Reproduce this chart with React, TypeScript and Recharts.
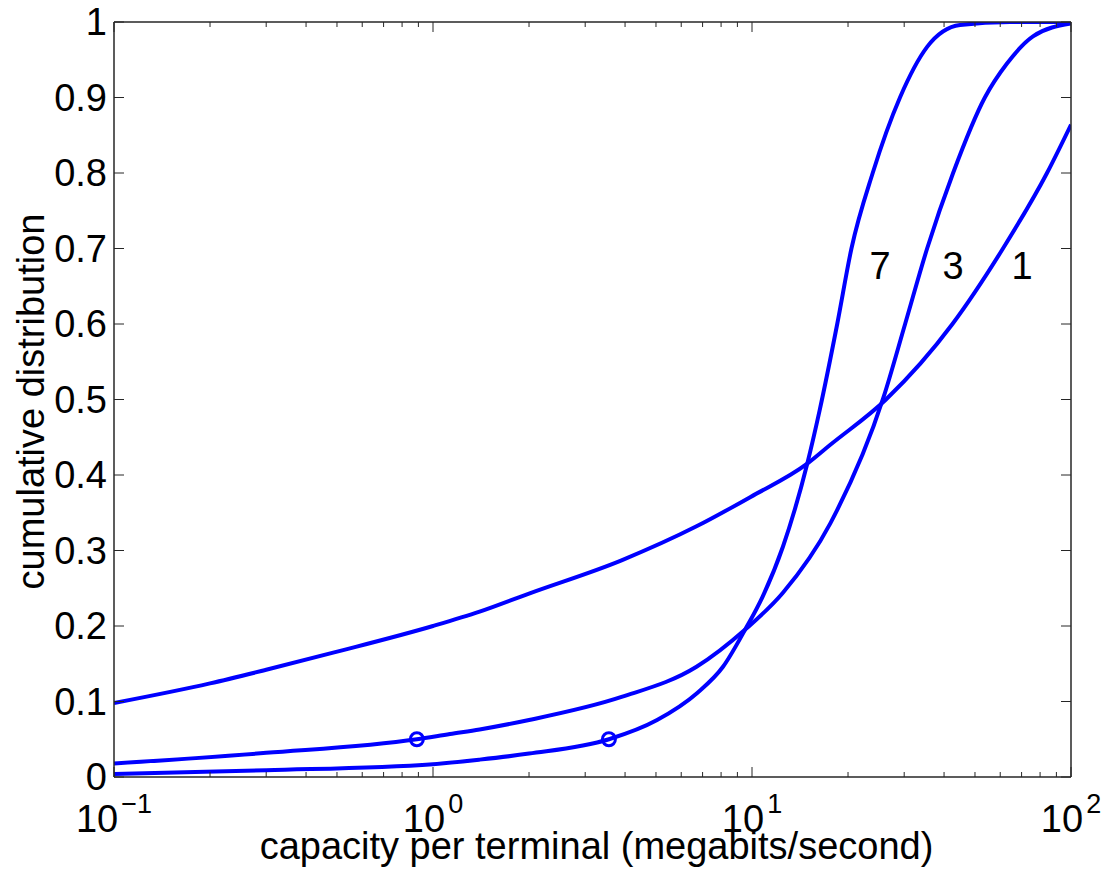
import React from 'react';
import { ComposedChart, Line, Scatter, XAxis, YAxis, ReferenceDot } from 'recharts';

// curve "1"
const capacity1 = [0.1, 0.2, 0.3, 0.49, 1.0, 1.4, 2.0, 3.9, 6.7, 9.9, 14.9, 17.6, 26.3, 42.5, 61.2, 84.1, 100];
const cdf1 = [0.098, 0.124, 0.142, 0.165, 0.2, 0.219, 0.243, 0.287, 0.332, 0.371, 0.415, 0.44, 0.5, 0.6, 0.7, 0.8, 0.864];

// curve "3"
const capacity3 = [0.1, 0.3, 0.89, 1.13, 1.4, 2.0, 3.9, 6.7, 9.5, 12.5, 17.6, 25.8, 30.2, 35.4, 42.7, 53.7, 63, 76, 100];
const cdf3 = [0.018, 0.032, 0.05, 0.057, 0.063, 0.0755, 0.106, 0.146, 0.195, 0.244, 0.336, 0.502, 0.6, 0.7, 0.8, 0.9, 0.945, 0.981, 0.998];

// curve "7"
const capacity7 = [0.1, 0.3, 1.0, 1.4, 2.0, 3.56, 5.04, 6.72, 8.11, 9.51, 10.8, 12.5, 14.9, 16.3, 18.5, 20.5, 23.9, 29.1, 35.4, 44.9, 64.4, 100];
const cdf7 = [0.004, 0.009, 0.017, 0.023, 0.031, 0.05, 0.0755, 0.111, 0.146, 0.195, 0.239, 0.305, 0.415, 0.486, 0.6, 0.7, 0.8, 0.9, 0.967, 0.996, 1.0, 1.0];

// 5% outage markers
const outageCapacity = [0.89, 3.56];
const outageCdf = [0.05, 0.05];

// in-plot curve labels
const curveLabelText = ['7', '3', '1'];
const curveLabelX = [25.2, 42.7, 70.2];
const curveLabelY = [0.677, 0.677, 0.677];

const majorXTicks = [0.1, 1, 10, 100];
const exponentLabels = ['\u22121', '0', '1', '2'];
const minorXTicks = [0.2, 0.3, 0.4, 0.5, 0.6, 0.7, 0.8, 0.9, 2, 3, 4, 5, 6, 7, 8, 9, 20, 30, 40, 50, 60, 70, 80, 90];
const yTicks = [0, 0.1, 0.2, 0.3, 0.4, 0.5, 0.6, 0.7, 0.8, 0.9, 1];

const FONT = '"Liberation Sans", Arial, Helvetica, sans-serif';
const BLUE = '#0000ff';
const AXIS = '#262626';
const FS = 38;

const zip = (xs: number[], ys: number[]) => xs.map((x, i) => ({ x, y: ys[i] }));
const series1 = zip(capacity1, cdf1);
const series3 = zip(capacity3, cdf3);
const series7 = zip(capacity7, cdf7);
const outageMarks = zip(outageCapacity, outageCdf);
const allXTicks = [...majorXTicks, ...minorXTicks];

const fmtY = (v: number) => (v === 0 ? '0' : v === 1 ? '1' : v.toFixed(1));

const BottomTick = ({ x, y, payload }: any) => {
  const i = majorXTicks.indexOf(payload.value);
  const major = i >= 0;
  return (
    <g>
      <line x1={x} x2={x} y1={y} y2={y - (major ? 10 : 5)} stroke={AXIS} strokeWidth={1} />
      {major && (
        <text x={x} y={y + 55} textAnchor="middle" fontSize={FS} fill="#000" fontFamily={FONT}>
          10
          <tspan dx={3} dy={-19} fontSize={27}>
            {exponentLabels[i]}
          </tspan>
        </text>
      )}
    </g>
  );
};

const TopTick = ({ x, y, payload }: any) => {
  const major = majorXTicks.indexOf(payload.value) >= 0;
  return <line x1={x} x2={x} y1={y} y2={y + (major ? 10 : 5)} stroke={AXIS} strokeWidth={1} />;
};

const LeftTick = ({ x, y, payload }: any) => (
  <g>
    <line x1={x} x2={x + 10} y1={y} y2={y} stroke={AXIS} strokeWidth={1} />
    <text x={x - 7} y={y + 13} textAnchor="end" fontSize={FS} fill="#000" fontFamily={FONT}>
      {fmtY(payload.value)}
    </text>
  </g>
);

const RightTick = ({ x, y }: any) => <line x1={x} x2={x - 10} y1={y} y2={y} stroke={AXIS} strokeWidth={1} />;

const Ring = ({ cx, cy }: any) => <circle cx={cx} cy={cy} r={6.5} fill="none" stroke={BLUE} strokeWidth={3} />;

const XTitle = ({ viewBox }: any) => (
  <text x={viewBox.x + viewBox.width / 2 + 4} y={viewBox.y + 82} textAnchor="middle" fontSize={FS} fill="#000" fontFamily={FONT}>
    capacity per terminal (megabits/second)
  </text>
);

const YTitle = ({ viewBox }: any) => {
  const cx = 44;
  const cy = viewBox.y + viewBox.height / 2 + 2;
  return (
    <text x={cx} y={cy} transform={`rotate(-90, ${cx}, ${cy})`} textAnchor="middle" fontSize={FS} fill="#000" fontFamily={FONT}>
      cumulative distribution
    </text>
  );
};

export default function App() {
  return (
    <div style={{ position: 'absolute', left: 0, top: 0, width: 1101, height: 880, background: '#fff' }}>
      <ComposedChart width={1101} height={880} margin={{ top: 21, right: 29, left: 14, bottom: 3 }}>
        <XAxis
          dataKey="x"
          type="number"
          scale="log"
          domain={[0.1, 100]}
          allowDataOverflow
          ticks={allXTicks}
          interval={0}
          tickSize={0}
          tickMargin={0}
          tick={<BottomTick />}
          height={100}
          stroke={AXIS}
          strokeWidth={1.5}
          label={<XTitle />}
        />
        <XAxis
          xAxisId="top"
          orientation="top"
          dataKey="x"
          type="number"
          scale="log"
          domain={[0.1, 100]}
          allowDataOverflow
          ticks={allXTicks}
          interval={0}
          tickSize={0}
          tickMargin={0}
          tick={<TopTick />}
          height={1}
          stroke={AXIS}
          strokeWidth={1.5}
        />
        <YAxis
          type="number"
          domain={[0, 1]}
          allowDataOverflow
          ticks={yTicks}
          interval={0}
          tickSize={0}
          tickMargin={0}
          tick={<LeftTick />}
          width={100}
          stroke={AXIS}
          strokeWidth={1.5}
          label={<YTitle />}
        />
        <YAxis
          yAxisId="right"
          orientation="right"
          type="number"
          domain={[0, 1]}
          allowDataOverflow
          ticks={yTicks}
          interval={0}
          tickSize={0}
          tickMargin={0}
          tick={<RightTick />}
          width={1}
          stroke={AXIS}
          strokeWidth={1.5}
        />
        <Line data={series1} dataKey="y" type="monotone" stroke={BLUE} strokeWidth={4} dot={false} isAnimationActive={false} />
        <Line data={series3} dataKey="y" type="monotone" stroke={BLUE} strokeWidth={4} dot={false} isAnimationActive={false} />
        <Line data={series7} dataKey="y" type="monotone" stroke={BLUE} strokeWidth={4} dot={false} isAnimationActive={false} />
        <Scatter data={outageMarks} dataKey="y" shape={<Ring />} isAnimationActive={false} />
        {curveLabelText.map((t, i) => (
          <ReferenceDot
            key={t}
            x={curveLabelX[i]}
            y={curveLabelY[i]}
            r={0}
            fill="none"
            stroke="none"
            label={{ value: t, position: 'center', fontSize: FS, fill: '#000', fontFamily: FONT }}
          />
        ))}
      </ComposedChart>
    </div>
  );
}
